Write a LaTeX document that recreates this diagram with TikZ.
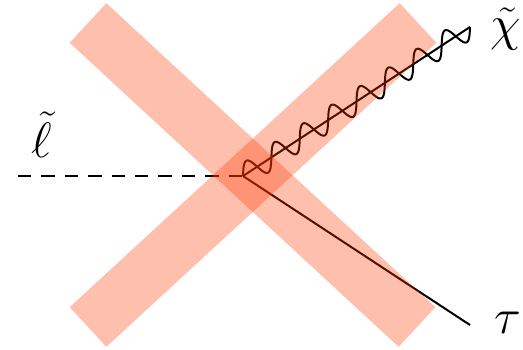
\documentclass[tikz,border=0pt]{standalone}
\usetikzlibrary{positioning}
\definecolor{bandred}{RGB}{255,55,0}

\begin{document}
\begin{tikzpicture}[
            x=0.5pt, y=-0.5pt,
            node distance=1cm,
            band/.style={draw=bandred, draw opacity=0.32, line width=27pt},
            scalar/.style={line width=1pt, dash pattern=on 6.7pt off 5pt},
            fermion/.style={line width=1pt},
            lab/.style={inner sep=0pt, font=\fontsize{27}{32}\selectfont}
            ]
            \useasboundingbox (0,0) rectangle (523,349);
            
            % vertice e pontas
            \coordinate (vertex) at (243,176);
            \coordinate (lstart) at (18,176);
            \coordinate (chiend) at (470,27);
            \coordinate (tauend) at (470,325);
            
            % linhas
            \draw[scalar] (lstart) -- (vertex);
            \draw[fermion] (vertex) -- (tauend);
            \draw[fermion] (vertex) -- (chiend);
            \draw[fermion, shift={(vertex)}] plot[domain=0:1, samples=260, smooth]
                ({227*\x - 4*sin(8*360*\x)}, {-149*\x - 10.5*sin(8*360*\x)});
            
            % faixas
            \coordinate (bandne) at (418,23);
            \coordinate (bandsw) at (88,327);
            \coordinate (bandnw) at (88,23);
            \coordinate (bandse) at (417,327);
            \draw[band] (bandsw) -- (bandne);
            \draw[band] (bandnw) -- (bandse);
            
            % rotulos
            \node[lab, right=10pt of chiend, yshift=-1pt] (chilab) {$\tilde{\chi}$};
            \node[lab, above=9pt of lstart, xshift=12pt] (elllab) {$\tilde{\ell}$};
            \node[lab, right=12pt of tauend, yshift=1pt] (taulab) {$\tau$};
            
        \end{tikzpicture}
\end{document}
